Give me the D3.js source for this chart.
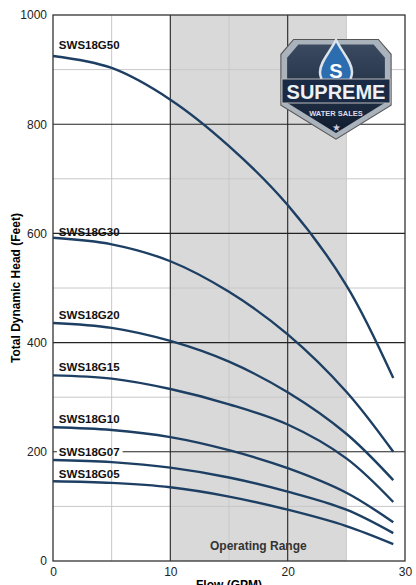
<!DOCTYPE html><html><head><meta charset="utf-8">
<script src="https://cdn.jsdelivr.net/npm/d3@7"></script>
<style>body{margin:0;background:#fff}text{font-family:Arial,"Liberation Sans",sans-serif}</style></head><body>
<svg id="c" width="416" height="585"></svg>
<script>
const flows=[0,5,10,15,20,25,29];
const seriesNames=["SWS18G50","SWS18G30","SWS18G20","SWS18G15","SWS18G10","SWS18G07","SWS18G05"];
const g50=[925,903,845,760,652,505,335];
const g30=[592,580,549,493,415,310,200];
const g20=[436,427,403,365,309,233,148];
const g15=[340,334,315,287,250,188,108];
const g10=[245,240,227,203,170,125,71];
const g07=[185,181,171,153,127,94,51];
const g05=[146,143,135,118,94,64,31];
const seriesValues=[g50,g30,g20,g15,g10,g07,g05];
const labelY=[945,602,450,356,260,199,159];
const yTicks=[0,200,400,600,800,1000];
const xTicks=[0,10,20,30];
const svg=d3.select("#c");
const x=d3.scaleLinear().domain([0,30]).range([53,405]);
const y=d3.scaleLinear().domain([0,1000]).range([561,15]);
const blue="#1d3f63";
svg.append("rect").attr("x",x(10)).attr("y",y(1000)).attr("width",x(25)-x(10)).attr("height",y(0)-y(1000)).attr("fill","#d9d9d9");
d3.range(5,30,10).forEach(v=>svg.append("line").attr("x1",x(v)).attr("x2",x(v)).attr("y1",y(0)).attr("y2",y(1000)).attr("stroke","#c8c8c8").attr("stroke-width",1));
d3.range(100,1000,200).forEach(v=>svg.append("line").attr("x1",x(0)).attr("x2",x(30)).attr("y1",y(v)).attr("y2",y(v)).attr("stroke","#c8c8c8").attr("stroke-width",1));
[10,20].forEach(v=>svg.append("line").attr("x1",x(v)).attr("x2",x(v)).attr("y1",y(0)).attr("y2",y(1000)).attr("stroke","#333").attr("stroke-width",1.2));
[200,400,600,800].forEach(v=>svg.append("line").attr("x1",x(0)).attr("x2",x(30)).attr("y1",y(v)).attr("y2",y(v)).attr("stroke","#222").attr("stroke-width",1.1));
svg.append("rect").attr("x",x(0)).attr("y",y(1000)).attr("width",x(30)-x(0)).attr("height",y(0)-y(1000)).attr("fill","none").attr("stroke","#333").attr("stroke-width",1.3);
svg.append("text").attr("x",x(17.5)).attr("y",550).attr("text-anchor","middle").attr("font-size",12).attr("font-weight","bold").attr("fill","#333").text("Operating Range");
const line=d3.line().x((d,i)=>x(flows[i])).y(d=>y(d)).curve(d3.curveCatmullRom.alpha(0.5));
seriesValues.forEach((s,k)=>{
 svg.append("path").attr("d",line(s)).attr("fill","none").attr("stroke",blue).attr("stroke-width",2.4);
});
seriesValues.forEach((s,k)=>{
 const t=svg.append("text").attr("x",x(0.5)).attr("y",y(labelY[k])+4).attr("font-size",11.5).attr("font-weight","bold").attr("fill","#111").text(seriesNames[k]);
 if(k==5){const b=t.node().getBBox();svg.insert("rect","text:last-of-type").attr("x",b.x-2).attr("y",b.y+2).attr("width",b.width+5).attr("height",b.height-4).attr("fill","#fff");}
});
const ya=svg.append("g").attr("transform",`translate(${x(0)},0)`).call(d3.axisLeft(y).tickValues(yTicks).tickFormat(d3.format("d")).tickSize(0).tickPadding(6));
const xa=svg.append("g").attr("transform",`translate(0,${y(0)})`).call(d3.axisBottom(x).tickValues(xTicks).tickSize(0).tickPadding(6));
[ya,xa].forEach(a=>{a.select(".domain").remove();a.selectAll("text").attr("font-size",12).attr("fill","#222").style("font-family","Arial,'Liberation Sans',sans-serif");});
svg.append("text").attr("transform","translate(20,288) rotate(-90)").attr("text-anchor","middle").attr("font-size",12).attr("font-weight","bold").text("Total Dynamic Head (Feet)");
svg.append("text").attr("x",x(15)).attr("y",589).attr("text-anchor","middle").attr("font-size",12).attr("font-weight","bold").text("Flow (GPM)");
// logo
const L=svg.append("g").attr("transform","translate(336,84)");
const defs=svg.append("defs");
const gr=defs.append("linearGradient").attr("id","sg").attr("x1",0).attr("y1",0).attr("x2",0).attr("y2",1);
gr.append("stop").attr("offset",0).attr("stop-color","#3a4a60");gr.append("stop").attr("offset",1).attr("stop-color","#0f1c30");
const sh="M-40,-42 L40,-42 L52,-28 L52,20 L0,52 L-52,20 L-52,-28 Z";
L.append("path").attr("d",sh).attr("fill","#aab2bc").attr("stroke","#555").attr("stroke-width",1).attr("transform","scale(1.06)");
L.append("path").attr("d",sh).attr("fill","url(#sg)").attr("transform","scale(0.94)");
L.append("path").attr("d","M0,-44 C6,-32 16,-22 16,-12 A16,16 0 0 1 -16,-12 C-16,-22 -6,-32 0,-44Z").attr("fill","#2c6db0").attr("stroke","#dde3ea").attr("stroke-width",2.5);
L.append("text").attr("x",0).attr("y",-6).attr("text-anchor","middle").attr("font-size",20).attr("font-weight","bold").attr("fill","#fff").text("S");
L.append("rect").attr("x",-54).attr("y",-5).attr("width",108).attr("height",24).attr("fill","#1a2a44").attr("stroke","#bbb").attr("stroke-width",1);
L.append("text").attr("x",0).attr("y",15).attr("text-anchor","middle").attr("font-size",20).attr("font-weight","bold").attr("fill","#eef1f4").text("SUPREME");
L.append("text").attr("x",0).attr("y",32).attr("text-anchor","middle").attr("font-size",7.5).attr("font-weight","bold").attr("fill","#dde").text("WATER SALES");
L.append("text").attr("x",0).attr("y",47).attr("text-anchor","middle").attr("font-size",10).attr("fill","#ccd").text("★");
</script></body></html>
